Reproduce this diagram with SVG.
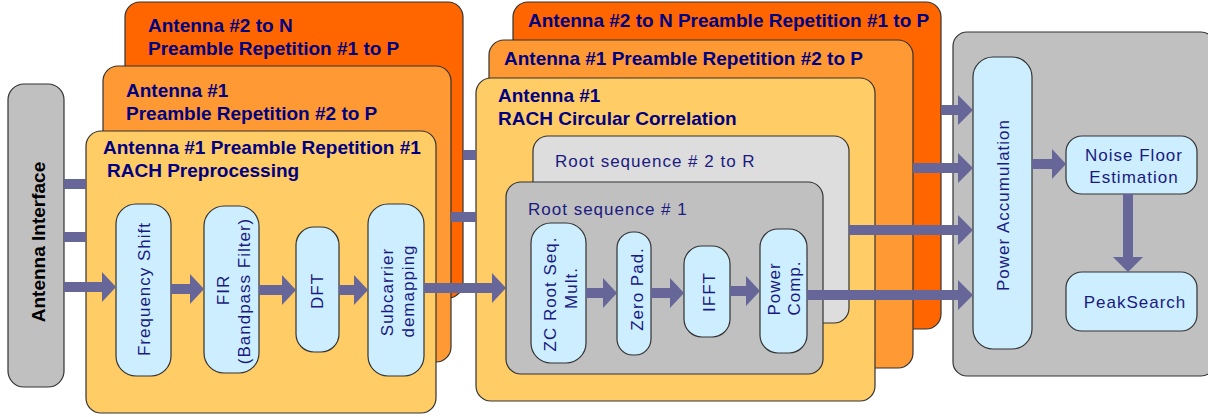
<svg xmlns="http://www.w3.org/2000/svg" width="1208" height="417" viewBox="0 0 1208 417">
<style>
.box{stroke:#333;stroke-width:1.2}
.o1{fill:#ff6600}
.o2{fill:#ff9933}
.o3{fill:#ffcc66}
.g1{fill:#dddddd}
.g2{fill:#c0c0c0}
.blu{fill:#cceeff}
.ttl{font-family:"Liberation Sans",Arial,sans-serif;font-weight:bold;font-size:19px;fill:#000080}
.lbl{font-family:"Liberation Sans",Arial,sans-serif;font-size:17px;letter-spacing:1px;fill:#1a1a80}
.mid{text-anchor:middle}
.arr{fill:#666699}
</style>
<rect width="1208" height="417" fill="#ffffff"/>

<g id="antenna-interface">
<rect class="box g2" x="8" y="84" width="56" height="303" rx="16"/>
<text class="ttl mid" style="fill:#000" transform="translate(45,242) rotate(-90)">Antenna Interface</text>
</g>

<g id="pre-ant2N">
<rect class="box o1" x="125" y="2" width="338" height="296" rx="15"/>
<text class="ttl" x="148" y="32">Antenna #2 to N</text>
<text class="ttl" x="148" y="55">Preamble Repetition #1 to P</text>
</g>
<g id="pre-ant1-rep2P">
<rect class="box o2" x="103" y="66" width="348" height="296" rx="15"/>
<text class="ttl" x="126" y="97">Antenna #1</text>
<text class="ttl" x="126" y="120">Preamble Repetition #2 to P</text>
</g>
<g id="pre-ant1-rep1">
<rect class="box o3" x="86" y="131" width="350" height="282" rx="15"/>
<text class="ttl" x="103" y="154">Antenna #1 Preamble Repetition #1</text>
<text class="ttl" x="107" y="177">RACH Preprocessing</text>
</g>
<g id="freq-shift">
<rect class="box blu" x="116" y="204" width="55" height="172" rx="20"/>
<text class="lbl mid" transform="translate(150,289) rotate(-90)">Frequency Shift</text>
</g>
<g id="fir">
<rect class="box blu" x="204" y="206" width="55" height="167" rx="20"/>
<text class="lbl mid" transform="translate(229,290) rotate(-90)">FIR</text>
<text class="lbl mid" transform="translate(250,291) rotate(-90)">(Bandpass Filter)</text>
</g>
<g id="dft">
<rect class="box blu" x="296" y="227" width="43" height="125" rx="18"/>
<text class="lbl mid" transform="translate(323,291) rotate(-90)">DFT</text>
</g>
<g id="subcarrier-demapping">
<rect class="box blu" x="368" y="204" width="56" height="172" rx="20"/>
<text class="lbl mid" transform="translate(393,292) rotate(-90)">Subcarrier</text>
<text class="lbl mid" transform="translate(414,291) rotate(-90)">demapping</text>
</g>

<g id="corr-ant2N">
<rect class="box o1" x="513" y="2" width="428" height="327" rx="15"/>
<text class="ttl" x="528" y="27">Antenna #2 to N Preamble Repetition #1 to P</text>
</g>
<g id="corr-ant1-rep2P">
<rect class="box o2" x="489" y="40" width="424" height="328" rx="15"/>
<text class="ttl" x="504" y="65">Antenna #1 Preamble Repetition #2 to P</text>
</g>
<g id="corr-ant1">
<rect class="box o3" x="476" y="78" width="399" height="323" rx="15"/>
<text class="ttl" x="498" y="102">Antenna #1</text>
<text class="ttl" x="498" y="125">RACH Circular Correlation</text>
</g>
<g id="root-2R">
<rect class="box g1" x="533" y="136" width="316" height="187" rx="15"/>
<text class="lbl" x="555" y="167">Root sequence # 2 to R</text>
</g>
<g id="root-1">
<rect class="box g2" x="506" y="182" width="317" height="192" rx="15"/>
<text class="lbl" x="528" y="215">Root sequence # 1</text>
</g>
<g id="zc-mult">
<rect class="box blu" x="531" y="223" width="55" height="140" rx="20"/>
<text class="lbl mid" transform="translate(556,294) rotate(-90)">ZC Root Seq.</text>
<text class="lbl mid" transform="translate(577,288) rotate(-90)">Mult.</text>
</g>
<g id="zero-pad">
<rect class="box blu" x="617" y="232" width="34" height="123" rx="16"/>
<text class="lbl mid" transform="translate(643,289) rotate(-90)">Zero Pad.</text>
</g>
<g id="ifft">
<rect class="box blu" x="684" y="246" width="46" height="91" rx="18"/>
<text class="lbl mid" transform="translate(715,292) rotate(-90)">IFFT</text>
</g>
<g id="power-comp">
<rect class="box blu" x="760" y="229" width="47" height="124" rx="18"/>
<text class="lbl mid" transform="translate(780,289) rotate(-90)">Power</text>
<text class="lbl mid" transform="translate(800,288) rotate(-90)">Comp.</text>
</g>

<g id="post-panel">
<rect class="box g2" x="953" y="32" width="262" height="344" rx="14"/>
</g>
<g id="power-accumulation">
<rect class="box blu" x="973" y="57" width="59" height="292" rx="20"/>
<text class="lbl mid" transform="translate(1009,205) rotate(-90)">Power Accumulation</text>
</g>
<g id="noise-floor">
<rect class="box blu" x="1066" y="136" width="131" height="58" rx="16"/>
<text class="lbl mid" x="1134" y="161">Noise Floor</text>
<text class="lbl mid" x="1134" y="183">Estimation</text>
</g>
<g id="peak-search">
<rect class="box blu" x="1066" y="272" width="131" height="59" rx="16"/>
<text class="lbl mid" x="1135" y="308">PeakSearch</text>
</g>

<g id="connectors">
<rect class="arr" x="64" y="179" width="22" height="10"/>
<rect class="arr" x="64" y="232" width="22" height="10"/>
<polygon class="arr" points="64,282 102,282 102,272 116,287 102,302 102,292 64,292"/>
<polygon class="arr" points="171,284 190,284 190,274 204,289 190,304 190,294 171,294"/>
<polygon class="arr" points="259,285 282,285 282,275 296,290 282,305 282,295 259,295"/>
<polygon class="arr" points="339,285 354,285 354,275 368,290 354,305 354,295 339,295"/>
<polygon class="arr" points="424,283 492,283 492,273 506,288 492,303 492,293 424,293"/>
<rect class="arr" x="463" y="150" width="13" height="10"/>
<rect class="arr" x="451" y="212" width="25" height="10"/>
<polygon class="arr" points="586,288 603,288 603,278 617,293 603,308 603,298 586,298"/>
<polygon class="arr" points="651,288 670,288 670,278 684,293 670,308 670,298 651,298"/>
<polygon class="arr" points="730,286 746,286 746,276 760,291 746,306 746,296 730,296"/>
<polygon class="arr" points="941,105 958,105 958,95 973,110 958,125 958,115 941,115"/>
<polygon class="arr" points="913,163 958,163 958,153 973,168 958,183 958,173 913,173"/>
<polygon class="arr" points="849,225 958,225 958,215 973,230 958,245 958,235 849,235"/>
<polygon class="arr" points="807,290 958,290 958,280 973,295 958,310 958,300 807,300"/>
<polygon class="arr" points="1032,159 1052,159 1052,149 1066,164 1052,179 1052,169 1032,169"/>
<polygon class="arr" points="1123,194 1123,257 1113,257 1128,272 1143,257 1133,257 1133,194"/>
</g>
</svg>
